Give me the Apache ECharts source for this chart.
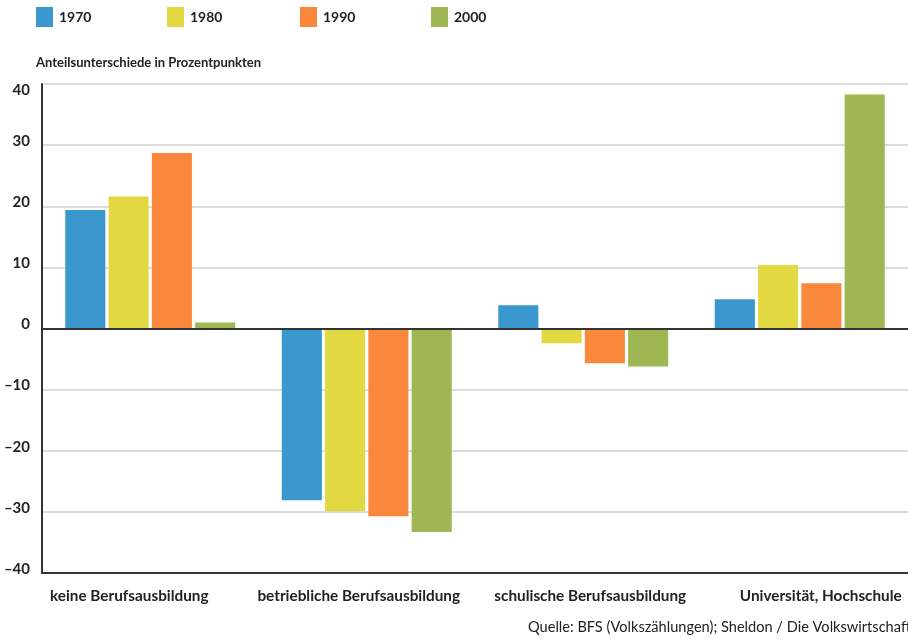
<!DOCTYPE html>
<html>
<head>
<meta charset="utf-8">
<script src="https://cdn.jsdelivr.net/npm/echarts@6/dist/echarts.min.js"></script>
<style>
  html, body { margin: 0; padding: 0; background: #fff; }
  #chart { width: 908px; height: 639px; }
</style>
</head>
<body>
<div id="chart"></div>
<script>
// Education categories and share differences (percentage points) per census year
const categories = ['keine Berufsausbildung', 'betriebliche Berufsausbildung', 'schulische Berufsausbildung', 'Universität, Hochschule'];
const years = ['1970', '1980', '1990', '2000'];
const values1970 = [19.4, -28.1, 3.8, 4.8];
const values1980 = [21.6, -29.9, -2.4, 10.4];
const values1990 = [28.7, -30.7, -5.7, 7.4];
const values2000 = [1.0, -33.3, -6.2, 38.3];
const colors = ['#3a98cf', '#e2d841', '#f9883c', '#9eb752'];
const yTicks = { min: -40, max: 40, step: 10 };

const FONT = 'Lato';
const TEXT = '#222222';

const seriesValues = [values1970, values1980, values1990, values2000];
const legendLeft = [36, 167, 300, 431];
// horizontal nudge of each category label (px, negative = left)
const labelShift = [-21, -8, 7, 21];

const chart = echarts.init(document.getElementById('chart'), null, { renderer: 'canvas' });

const catRich = {};
labelShift.forEach((s, i) => {
  catRich['c' + i] = {
    fontFamily: FONT, fontWeight: 'bold', fontSize: 15.3, color: TEXT,
    padding: s < 0 ? [0, -2 * s, 0, 0] : [0, 0, 0, 2 * s]
  };
});

chart.setOption({
  animation: false,
  textStyle: { fontFamily: FONT },
  title: [
    {
      text: 'Anteilsunterschiede in Prozentpunkten',
      left: 36, top: 56, padding: 0,
      textStyle: { fontFamily: FONT, fontWeight: 'bold', fontSize: 13, color: TEXT }
    },
    {
      text: 'Quelle: BFS (Volkszählungen); Sheldon / Die Volkswirtschaft',
      left: 528, top: 620, padding: 0,
      textStyle: { fontFamily: FONT, fontWeight: 'normal', fontSize: 14.6, color: TEXT }
    }
  ],
  legend: years.map((y, i) => ({
    data: [y],
    left: legendLeft[i], top: 7, padding: 0,
    itemWidth: 17, itemHeight: 20, itemGap: 0,
    icon: 'rect',
    textStyle: { fontFamily: FONT, fontWeight: 'bold', fontSize: 14, color: TEXT, padding: [0, 0, 0, 1] },
    selectedMode: false
  })),
  grid: { left: 42, right: 0, top: 84, bottom: 66, outerBoundsMode: 'none', containLabel: false },
  xAxis: [
    {
      type: 'category',
      data: categories,
      position: 'bottom',
      axisLine: { onZero: false, lineStyle: { color: '#333', width: 2 } },
      axisTick: { show: false },
      axisLabel: {
        interval: 0, margin: 16, hideOverlap: false,
        formatter: (v, idx) => '{c' + idx + '|' + v + '}',
        rich: catRich
      }
    },
    {
      // zero baseline
      type: 'category',
      data: categories,
      position: 'bottom',
      axisLine: { onZero: true, lineStyle: { color: '#333', width: 2 } },
      axisTick: { show: false },
      axisLabel: { show: false },
      z: 5
    }
  ],
  yAxis: {
    type: 'value',
    min: yTicks.min, max: yTicks.max, interval: yTicks.step,
    axisLine: { show: true, lineStyle: { color: '#333', width: 2 } },
    axisTick: { show: false },
    splitLine: { lineStyle: { color: '#d0d0d0', width: 1.5 } },
    axisLabel: {
      margin: 12,
      formatter: v => {
        const t = String(v).replace('-', '\u2013');
        return v === yTicks.max ? '{t|' + t + '}' : '{n|' + t + '}';
      },
      rich: {
        n: { fontFamily: FONT, fontWeight: 'bold', fontSize: 15, color: TEXT, padding: [0, 0, 8, 0] },
        t: { fontFamily: FONT, fontWeight: 'bold', fontSize: 15, color: TEXT, padding: [12, 0, 0, 0] }
      }
    }
  },
  series: seriesValues.map((vals, i) => ({
    name: years[i],
    type: 'bar',
    data: vals,
    barGap: '8%',
    barCategoryGap: '21.5%',
    itemStyle: { color: colors[i] }
  }))
});
</script>
</body>
</html>
